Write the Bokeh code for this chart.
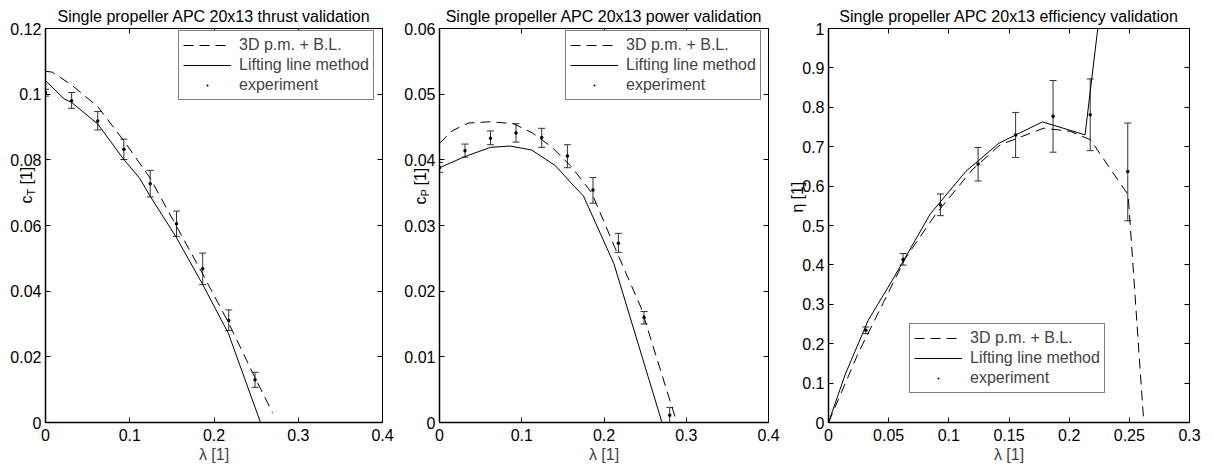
import math
from bokeh.plotting import figure
from bokeh.layouts import row
from bokeh.core.properties import value
from bokeh.models import (ColumnDataSource, Whisker, TeeHead, LinearAxis, Range1d,
                          FixedTicker, Legend, LegendItem)
from bokeh.embed import file_html
from bokeh.resources import INLINE

FONT = "Liberation Sans"
FS = "16px"

# ---------------- data ----------------
exp_lam = [0.0, 0.031, 0.062, 0.093, 0.1243, 0.1555, 0.1866, 0.2175, 0.2487, 0.2799]

# thrust coefficient
thrust_pm_lam = [0.0, 0.008, 0.031, 0.062, 0.093, 0.124, 0.155, 0.186, 0.217, 0.248, 0.2695]
thrust_pm_ct = [0.1070, 0.1067, 0.1028, 0.0962, 0.0858, 0.0745, 0.0600, 0.0455, 0.0305, 0.0140, 0.0030]
thrust_ll_lam = [0.0, 0.022, 0.031, 0.062, 0.093, 0.112, 0.124, 0.155, 0.186, 0.217, 0.2552]
thrust_ll_ct = [0.1041, 0.0986, 0.0975, 0.0909, 0.0801, 0.0743, 0.0690, 0.0565, 0.0423, 0.0272, 0.0]
thrust_exp_ct = [0.1005, 0.0980, 0.0918, 0.0832, 0.0727, 0.0605, 0.0468, 0.0311, 0.0130]
thrust_exp_lo = [0.0994, 0.0957, 0.0891, 0.0801, 0.0687, 0.0567, 0.0420, 0.0280, 0.0107]
thrust_exp_hi = [0.1015, 0.1005, 0.0947, 0.0863, 0.0768, 0.0644, 0.0516, 0.0343, 0.0153]

# power coefficient
power_pm_lam = [0.0, 0.015, 0.035, 0.062, 0.090, 0.113, 0.137, 0.160, 0.185, 0.212, 0.245, 0.2885]
power_pm_cp = [0.0425, 0.0444, 0.0456, 0.0458, 0.0455, 0.0441, 0.0419, 0.0390, 0.0350, 0.0270, 0.0175, 0.0]
power_ll_lam = [0.0, 0.031, 0.062, 0.086, 0.112, 0.141, 0.1636, 0.175, 0.212, 0.2705]
power_ll_cp = [0.0388, 0.0405, 0.0419, 0.0421, 0.0415, 0.0391, 0.0360, 0.0345, 0.0242, 0.0]
power_exp_cp = [0.0388, 0.0414, 0.0433, 0.0441, 0.0434, 0.0406, 0.0354, 0.0273, 0.0160, 0.0011]
power_exp_lo = [0.0381, 0.0404, 0.0423, 0.0427, 0.0419, 0.0388, 0.0334, 0.0259, 0.0150, 0.0]
power_exp_hi = [0.0396, 0.0424, 0.0444, 0.0455, 0.0448, 0.0423, 0.0373, 0.0288, 0.0169, 0.0023]

# efficiency
eff_pm_lam = [0.0, 0.025, 0.0457, 0.0638, 0.0887, 0.1193, 0.1428, 0.1788, 0.201, 0.2177, 0.2357, 0.249, 0.262]
eff_pm_eta = [0.0, 0.178, 0.305, 0.4165, 0.527, 0.641, 0.705, 0.747, 0.739, 0.7176, 0.637, 0.578, 0.0]
eff_ll_lam = [0.0, 0.014, 0.033, 0.053, 0.0845, 0.1140, 0.1417, 0.1778, 0.2132, 0.2265]
eff_ll_eta = [0.0, 0.123, 0.2595, 0.361, 0.529, 0.637, 0.709, 0.763, 0.730, 1.07]
eff_exp_eta = [0.0, 0.234, 0.414, 0.552, 0.656, 0.730, 0.777, 0.781, 0.637]
eff_exp_lo = [0.0, 0.2257, 0.3995, 0.525, 0.613, 0.6725, 0.686, 0.690, 0.512]
eff_exp_hi = [0.0, 0.2425, 0.429, 0.580, 0.698, 0.787, 0.868, 0.872, 0.760]

# ticks
x_ticks_a = [0.0, 0.1, 0.2, 0.3, 0.4]
x_labels_a = ["0", "0.1", "0.2", "0.3", "0.4"]
y_ticks_t = [0.0, 0.02, 0.04, 0.06, 0.08, 0.1, 0.12]
y_labels_t = ["0", "0.02", "0.04", "0.06", "0.08", "0.1", "0.12"]
y_ticks_p = [0.0, 0.01, 0.02, 0.03, 0.04, 0.05, 0.06]
y_labels_p = ["0", "0.01", "0.02", "0.03", "0.04", "0.05", "0.06"]
x_ticks_e = [0.0, 0.05, 0.1, 0.15, 0.2, 0.25, 0.3]
x_labels_e = ["0", "0.05", "0.1", "0.15", "0.2", "0.25", "0.3"]
y_ticks_e = [0.0, 0.1, 0.2, 0.3, 0.4, 0.5, 0.6, 0.7, 0.8, 0.9, 1.0]
y_labels_e = ["0", "0.1", "0.2", "0.3", "0.4", "0.5", "0.6", "0.7", "0.8", "0.9", "1"]

titles = ["Single propeller APC 20x13 thrust validation",
          "Single propeller APC 20x13 power validation",
          "Single propeller APC 20x13 efficiency validation"]
legend_labels = ["3D p.m. + B.L.", "Lifting line method", "experiment"]

EB = "#333333"
FRAME_TOP = 28
FRAME_BOTTOM = 422
FRAME_H = FRAME_BOTTOM - FRAME_TOP


def style_axis(ax, ticks, labels, show_labels=True, width=1.5):
    ax.ticker = FixedTicker(ticks=ticks)
    if show_labels:
        ax.major_label_overrides = {t: l for t, l in zip(ticks, labels)}
    else:
        ax.major_label_overrides = {t: "" for t in ticks}
    ax.major_tick_in = 5
    ax.major_tick_out = 0
    ax.minor_tick_line_color = None
    ax.axis_line_color = "black"
    ax.axis_line_width = width
    ax.major_tick_line_color = "black"
    ax.major_label_text_font = FONT
    ax.major_label_text_font_size = FS
    ax.major_label_text_color = "black"


def make_panel(title, width, bl, br, xmax, ymax, xt, xl, yt, yl,
               pm, ll, ex, legend_loc, ylabel_x, ylabel_parts):
    fw = width - bl - br
    p = figure(width=width, height=470, x_range=Range1d(0, xmax), y_range=Range1d(0, ymax),
               output_backend="svg", toolbar_location=None,
               min_border_left=bl, min_border_right=br,
               min_border_top=FRAME_TOP, min_border_bottom=470 - FRAME_BOTTOM)
    p.xgrid.grid_line_color = None
    p.ygrid.grid_line_color = None
    p.outline_line_color = "black"
    p.background_fill_color = "white"
    p.border_fill_color = "white"

    style_axis(p.xaxis[0], xt, xl)
    style_axis(p.yaxis[0], yt, yl)
    p.xaxis.major_label_standoff = 6
    p.yaxis.major_label_standoff = 4
    p.xaxis.axis_label = "\u03bb [1]"
    p.xaxis.axis_label_text_font = FONT
    p.xaxis.axis_label_text_font_size = FS
    p.xaxis.axis_label_text_font_style = "normal"
    p.xaxis.axis_label_standoff = 2

    top = LinearAxis()
    style_axis(top, xt, xl, show_labels=False, width=1)
    top.major_label_standoff = 0
    p.add_layout(top, "above")
    right = LinearAxis()
    style_axis(right, yt, yl, show_labels=False, width=1)
    right.major_label_standoff = 0
    p.add_layout(right, "right")

    r_pm = p.line(pm[0], pm[1], line_color="black", line_width=1, line_dash="10 6")
    r_ll = p.line(ll[0], ll[1], line_color="black", line_width=1)
    lam, val, lo, hi = ex
    src = ColumnDataSource(dict(x=lam, y=val, lo=lo, hi=hi))
    w = Whisker(base="x", upper="hi", lower="lo", source=src, dimension="height",
                line_color=EB, line_width=1,
                upper_head=TeeHead(size=7, line_color=EB, line_width=1),
                lower_head=TeeHead(size=7, line_color=EB, line_width=1))
    p.add_layout(w)
    r_ex = p.scatter("x", "y", source=src, size=14, marker="dot",
                     line_color="black", fill_color="black")

    legend = Legend(items=[LegendItem(label=legend_labels[0], renderers=[r_pm]),
                           LegendItem(label=legend_labels[1], renderers=[r_ll]),
                           LegendItem(label=legend_labels[2], renderers=[r_ex])],
                    location=legend_loc)
    legend.border_line_color = "black"
    legend.border_line_width = 1
    legend.background_fill_color = "white"
    legend.background_fill_alpha = 1
    legend.label_text_font = FONT
    legend.label_text_font_size = FS
    legend.glyph_width = 48
    legend.glyph_height = 20
    legend.label_height = 20
    legend.label_standoff = 8
    legend.padding = 4
    legend.spacing = 0
    legend.margin = 0
    p.add_layout(legend)

    # texts drawn outside the frame (title and rotated y label with subscript)
    def dx(px_rel):
        return px_rel / fw * xmax

    def dy(py):
        return (FRAME_BOTTOM - py) / FRAME_H * ymax

    p.text(x=[xmax / 2], y=[dy(16)], text=[title],
           text_font=value(FONT), text_font_size=value(FS), text_color="black",
           text_align="center", text_baseline="alphabetic", level="overlay")

    for text, size, xoff, ypos in ylabel_parts:
        p.text(x=[dx(ylabel_x + xoff)], y=[dy(ypos)], text=[text], angle=math.pi / 2,
               text_font=value(FONT), text_font_size=value(size), text_color="black",
               text_align="left", text_baseline="alphabetic", level="overlay")
    return p


p1 = make_panel(titles[0], 400, 45, 18, 0.4, 0.12, x_ticks_a, x_labels_a, y_ticks_t, y_labels_t,
                (thrust_pm_lam, thrust_pm_ct), (thrust_ll_lam, thrust_ll_ct),
                (exp_lam[:9], thrust_exp_ct, thrust_exp_lo, thrust_exp_hi),
                (133, 322), -19,
                [("c", FS, 0, 203), ("T", "11px", 4, 195), ("[1]", FS, 0, 184)])
p2 = make_panel(titles[1], 385, 39, 17, 0.4, 0.06, x_ticks_a, x_labels_a, y_ticks_p, y_labels_p,
                (power_pm_lam, power_pm_cp), (power_ll_lam, power_ll_cp),
                (exp_lam, power_exp_cp, power_exp_lo, power_exp_hi),
                (126, 322), -19,
                [("c", FS, 0, 204), ("P", "11px", 4, 196), ("[1]", FS, 0, 185)])
p3 = make_panel(titles[2], 428, 43, 24, 0.3, 1.0, x_ticks_e, x_labels_e, y_ticks_e, y_labels_e,
                (eff_pm_lam, eff_pm_eta), (eff_ll_lam, eff_ll_eta),
                (exp_lam[:9], eff_exp_eta, eff_exp_lo, eff_exp_hi),
                (81, 29), -31,
                [("\u03b7", FS, 0, 212), ("[1]", FS, 0, 199)])

layout = row(p1, p2, p3, spacing=0)
open("out.html", "w").write(file_html(layout, INLINE))
